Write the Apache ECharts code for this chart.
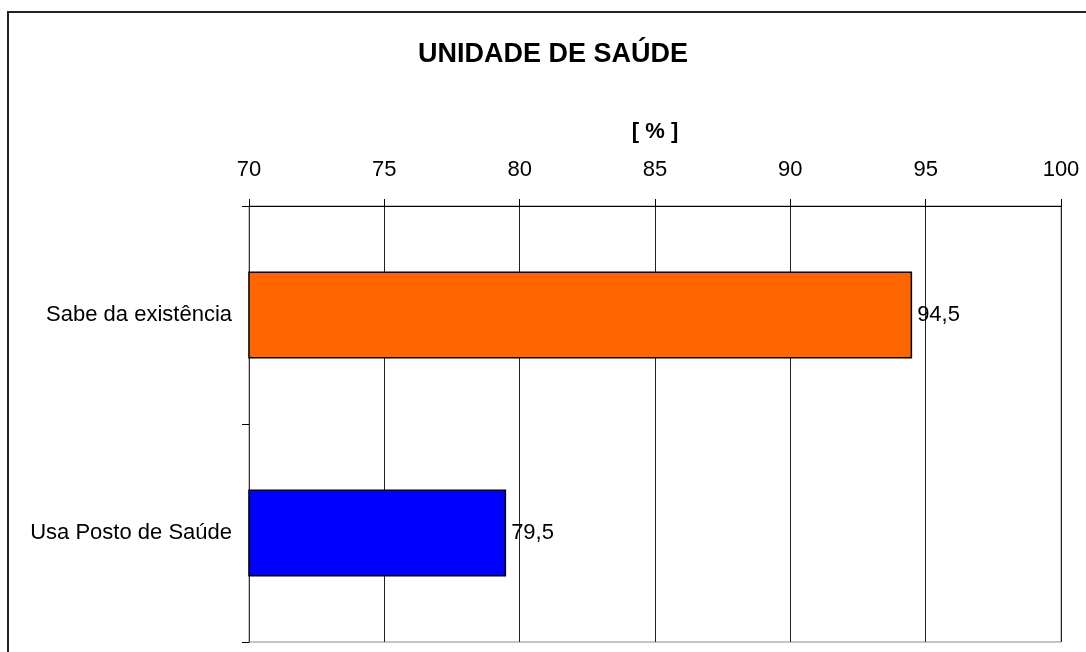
<!DOCTYPE html>
<html>
<head>
<meta charset="utf-8">
<script src="https://cdn.jsdelivr.net/npm/echarts@6/dist/echarts.min.js"></script>
<style>
  html, body { margin: 0; padding: 0; background: #fff; }
  #chart { width: 1086px; height: 652px; }
</style>
</head>
<body>
<div id="chart"></div>
<script>
// dados
const categories = ['Sabe da existência', 'Usa Posto de Saúde']
const values = [94.5, 79.5]
const xTicks = { min: 70, max: 100, step: 5 }

const COLORS = ['#FF6600', '#0000FF']
const FONT = '"Liberation Sans", Arial, sans-serif'

const chart = echarts.init(document.getElementById('chart'))

chart.setOption({
  animation: false,
  backgroundColor: '#fff',
  textStyle: { fontFamily: FONT, color: '#000' },
  title: {
    text: 'UNIDADE DE SAÚDE',
    left: 418, top: 41, padding: 0,
    textStyle: { fontFamily: FONT, fontSize: 27, fontWeight: 'bold', color: '#000' }
  },
  graphic: [{
    // moldura do gráfico (só topo e esquerda visíveis no recorte)
    type: 'rect', silent: true, z: 100,
    shape: { x: 8, y: 12, width: 1200, height: 800 },
    style: { fill: 'none', stroke: '#222', lineWidth: 2 }
  }],
  grid: {
    left: 249, right: 25, top: 206, bottom: 10,
    show: true, borderColor: '#8c8c8c', borderWidth: 1
  },
  xAxis: {
    type: 'value',
    position: 'top',
    min: xTicks.min, max: xTicks.max, interval: xTicks.step,
    name: '[ % ]',
    nameLocation: 'middle',
    nameGap: 63,
    nameTextStyle: { fontFamily: FONT, fontSize: 22, fontWeight: 'bold', color: '#000' },
    axisLine: { show: true, lineStyle: { color: '#000', width: 1 } },
    axisTick: { show: true, inside: false, length: 7, lineStyle: { color: '#000' } },
    axisLabel: { fontFamily: FONT, fontSize: 22, color: '#000', margin: 25 },
    splitLine: { show: true, lineStyle: { color: '#222', width: 1 } }
  },
  yAxis: {
    type: 'category',
    data: categories,
    inverse: true,
    boundaryGap: true,
    axisLine: { show: true, lineStyle: { color: '#333', width: 1 } },
    axisTick: { show: true, inside: false, length: 7, lineStyle: { color: '#000' } },
    axisLabel: { fontFamily: FONT, fontSize: 22, color: '#000', margin: 17 },
    splitLine: { show: false }
  },
  series: [{
    type: 'bar',
    barCategoryGap: '60%',
    data: values.map((v, i) => ({
      value: v,
      itemStyle: { color: COLORS[i % COLORS.length], borderColor: '#000', borderWidth: 1.5 }
    })),
    label: {
      show: true, position: 'right', distance: 5,
      fontFamily: FONT, fontSize: 22, color: '#000',
      formatter: p => String(p.value).replace('.', ',')
    }
  }]
})
</script>
</body>
</html>
